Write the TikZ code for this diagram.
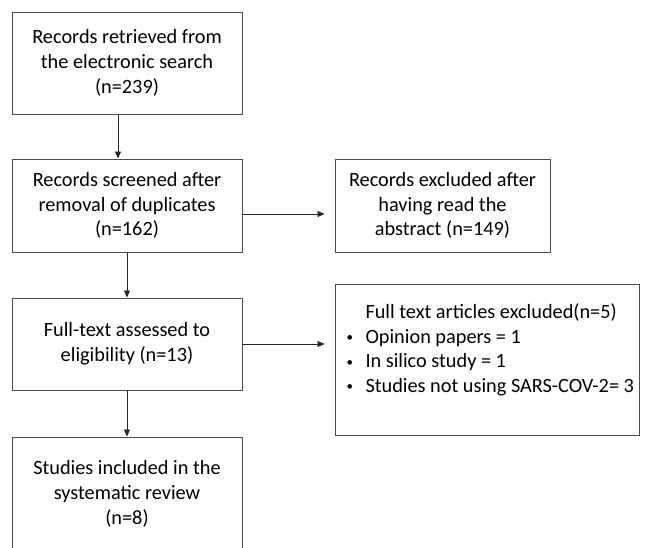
\documentclass[tikz,border=0pt]{standalone}
\usepackage{fontspec}
\setmainfont{Carlito}
\usetikzlibrary{arrows.meta}

\tikzset{
  box/.style={rectangle, draw=black!70, line width=1pt, align=center,
    font=\fontsize{20.3}{24.8}\selectfont, inner sep=0pt},
  flow/.style={-{Triangle[length=7pt,width=6pt]}, line width=0.9pt, black!85}
}
\newcommand{\bul}{\makebox[20pt][l]{\hspace*{1pt}\raisebox{1.8pt}{\fontsize{13}{13}\selectfont •}}}

\begin{document}
\begin{tikzpicture}[x=1pt, y=-1pt]
	\useasboundingbox (0,0) rectangle (648,547);
	\clip (0,0) rectangle (648,547);
	\node[box] at (127,63) [minimum width=230pt, minimum height=102pt] (B1) {Records retrieved from\\the electronic search\\(n=239)};
	\node[box] at (127,205.5) [minimum width=230pt, minimum height=93pt] (B2) {Records screened after\\removal of duplicates\\(n=162)};
	\node[box] at (442.5,205.5) [minimum width=215pt, minimum height=93pt] (B3) {Records excluded after\\having read the\\abstract (n=149)};
	\node[box] at (127,344) [minimum width=230pt, minimum height=92pt] (B4) {Full-text assessed to\\eligibility (n=13)};
	\node[box] at (487,359.5) [minimum width=304pt, minimum height=151pt] (B5) {};
	\node[box, draw=none, align=left, anchor=north west] at (345,303) (excl) {\hspace*{20pt}Full text articles excluded(n=5)\\
		\bul Opinion papers = 1\\
		\bul In silico study = 1\\
		\bul Studies not using SARS-COV-2= 3};
	\node[box] at (127,494) [minimum width=230pt, minimum height=114pt] (B6) {Studies included in the\\systematic review\\(n=8)};

	\draw[flow] ([xshift=-9pt]B1.south) -- ([xshift=-9pt]B2.north);
	\draw[flow] (B2.south) -- (B4.north);
	\draw[flow] (B4.south) -- (B6.north);
	\draw[flow, shorten >=10pt] ([yshift=-8.5pt]B2.east) -- ([yshift=-8.5pt]B3.west);
	\draw[flow, shorten >=10pt] (B4.east) -- (B4.east -| B5.west);
\end{tikzpicture}
\end{document}
